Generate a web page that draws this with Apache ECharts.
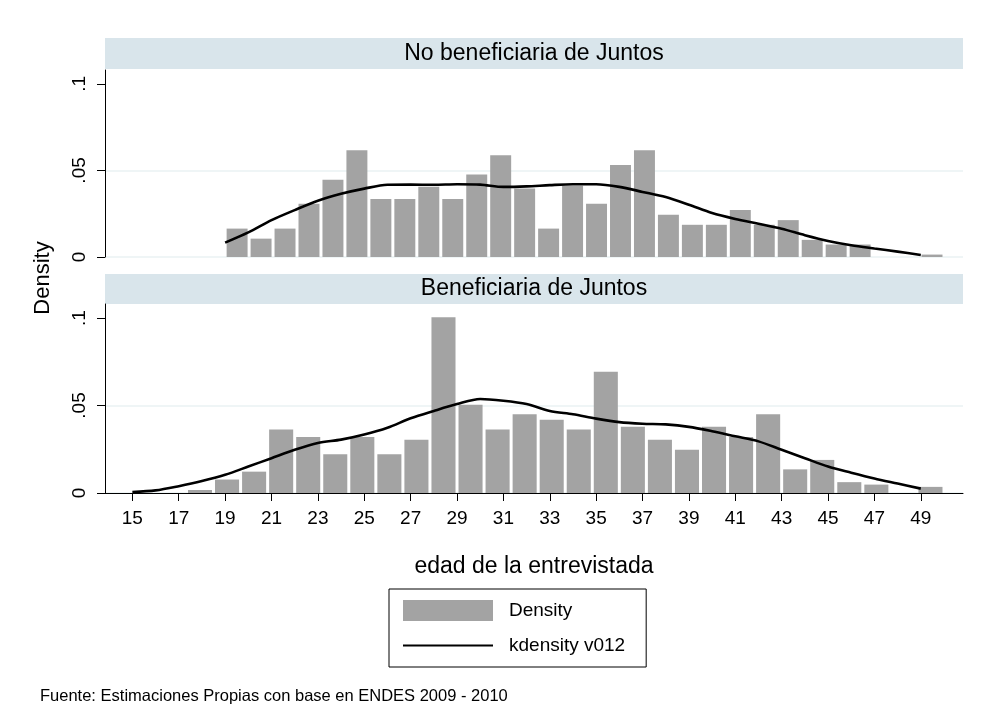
<!DOCTYPE html>
<html>
<head>
<meta charset="utf-8">
<script src="https://cdn.jsdelivr.net/npm/echarts@6/dist/echarts.min.js"></script>
<style>
html,body{margin:0;padding:0;background:#fff;}
#chart{width:984px;height:713px;}
</style>
</head>
<body>
<div id="chart"></div>
<script>
// ---- Data ----
const panelTitles = ['No beneficiaria de Juntos', 'Beneficiaria de Juntos'];
const xTickLabels = [15, 17, 19, 21, 23, 25, 27, 29, 31, 33, 35, 37, 39, 41, 43, 45, 47, 49];
const yTickValues = [0, 0.05, 0.1];

// Histogram: No beneficiaria (30 bins from 19 to 50)
const topBinStart = 19;
const topBinWidth = 31 / 30;
const topDensity = [0.0164, 0.0106, 0.0164, 0.0308, 0.0446, 0.0617, 0.0335, 0.0335, 0.0406, 0.0335,
  0.0477, 0.0588, 0.0396, 0.0164, 0.0412, 0.0308, 0.0531, 0.0617, 0.0244, 0.0186,
  0.0186, 0.0271, 0.0186, 0.0213, 0.0099, 0.0072, 0.0072, 0, 0, 0.0014];

// Histogram: Beneficiaria (30 bins from 15 to 50)
const botBinStart = 15;
const botBinWidth = 35 / 30;
const botDensity = [0, 0, 0.0017, 0.0077, 0.0122, 0.0363, 0.032, 0.0222, 0.032, 0.0222,
  0.0305, 0.1004, 0.0504, 0.0363, 0.045, 0.0419, 0.0363, 0.0693, 0.0378, 0.0305,
  0.0247, 0.0378, 0.032, 0.045, 0.0135, 0.0189, 0.0062, 0.0048, 0, 0.0035];

// Kernel density: ages and values
const topKdAges = [19, 20, 21, 22, 23, 24, 25, 26, 27, 28, 29, 30, 31, 32, 33, 34, 35, 36, 37, 38, 39, 40, 41, 42, 43, 44, 45, 46, 47, 48, 49];
const topKdVals = [0.0083, 0.0142, 0.0213, 0.0271, 0.0325, 0.0365, 0.0395, 0.0417, 0.0418, 0.0417,
  0.0420, 0.0418, 0.0405, 0.0408, 0.0415, 0.0420, 0.0420, 0.0405, 0.0376, 0.0346,
  0.0302, 0.0254, 0.0220, 0.0192, 0.0163, 0.0126, 0.0093, 0.0068, 0.0049, 0.0031, 0.0012];

const botKdAges = [15, 16, 17, 18, 19, 20, 21, 22, 23, 24, 25, 26, 27, 28, 29, 30, 31, 32, 33, 34, 35, 36, 37, 38, 39, 40, 41, 42, 43, 44, 45, 46, 47, 48, 49];
const botKdVals = [0.0006, 0.0015, 0.0039, 0.0068, 0.0104, 0.0151, 0.0199, 0.0247, 0.0286, 0.0305,
  0.0334, 0.0373, 0.0427, 0.0469, 0.0508, 0.0537, 0.0527, 0.0508, 0.0469, 0.0450,
  0.0425, 0.0405, 0.0396, 0.0392, 0.0378, 0.0353, 0.0324, 0.0295, 0.0247, 0.0199,
  0.0151, 0.0116, 0.0083, 0.0054, 0.0025];

const xMin = 13.82, xMax = 50.82, yMax = 0.108;

// ---- Build ----
const FONT = "'Liberation Sans', Arial, Helvetica, sans-serif";
const BAR = '#a3a3a3';
const GRIDC = '#eaf2f3';
const STRIP = '#d9e5eb';

function bins(start, width, vals) {
  return vals.map((v, i) => [start + i * width, start + (i + 1) * width, v]);
}
function pairs(xs, ys) { return xs.map((x, i) => [x, ys[i]]); }

function renderBar(params, api) {
  const s = api.value(0), e = api.value(1), v = api.value(2);
  if (!v) return null;
  const p0 = api.coord([s, 0]);
  const p1 = api.coord([e, v]);
  return {
    type: 'rect',
    shape: { x: p0[0] + 1.5, y: p1[1], width: p1[0] - p0[0] - 3, height: p0[1] - p1[1] },
    style: { fill: BAR }
  };
}

const grids = [
  { left: 105, right: 21, top: 70, height: 187 },
  { left: 105, right: 21, top: 304, height: 189 }
];

function yAxis(idx) {
  return {
    type: 'value', gridIndex: idx, min: 0, max: yMax, interval: 0.05,
    axisLine: { show: true, lineStyle: { color: '#000', width: 1 } },
    axisTick: { show: true, length: 8, lineStyle: { color: '#000' }, customValues: yTickValues },
    axisLabel: {
      customValues: yTickValues, rotate: 90, margin: 16,
      color: '#000', fontSize: 19, fontFamily: FONT,
      formatter: v => v === 0 ? '0' : String(+v.toFixed(3)).replace(/^0\./, '.')
    },
    splitLine: { show: true, showMaxLine: false, lineStyle: { color: GRIDC, width: 1.5 } }
  };
}

const option = {
  animation: false,
  backgroundColor: '#fff',
  textStyle: { fontFamily: FONT },
  grid: grids,
  xAxis: [
    { type: 'value', gridIndex: 0, min: xMin, max: xMax, show: false },
    {
      type: 'value', gridIndex: 1, min: xMin, max: xMax,
      axisLine: { show: true, onZero: false, lineStyle: { color: '#000', width: 1 } },
      axisTick: { show: true, length: 8, lineStyle: { color: '#000' }, customValues: xTickLabels },
      axisLabel: { customValues: xTickLabels, margin: 16, color: '#000', fontSize: 19, fontFamily: FONT },
      splitLine: { show: false },
      name: 'edad de la entrevistada', nameLocation: 'middle', nameGap: 62,
      nameTextStyle: { color: '#000', fontSize: 23, fontFamily: FONT }
    }
  ],
  yAxis: [yAxis(0), yAxis(1)],
  legend: {
    orient: 'vertical', left: 389, top: 589,
    padding: [11, 21, 11, 13], itemGap: 14, itemWidth: 90, itemHeight: 21,
    borderColor: '#000', borderWidth: 1,
    textStyle: { color: '#000', fontSize: 19, fontFamily: FONT, lineHeight: 21, padding: [0, 0, 0, 11] },
    data: [
      { name: 'Density', icon: 'rect' },
      { name: 'kdensity v012', itemStyle: { color: 'rgba(0,0,0,0)', borderWidth: 0, opacity: 0 } }
    ]
  },
  graphic: [
    { type: 'rect', left: 105, top: 38, shape: { width: 858, height: 31 }, style: { fill: STRIP }, silent: true },
    { type: 'text', x: 534, y: 54, style: { text: panelTitles[0], fill: '#000', font: '23px ' + FONT, align: 'center', verticalAlign: 'middle' } },
    { type: 'rect', left: 105, top: 274, shape: { width: 858, height: 30 }, style: { fill: STRIP }, silent: true },
    { type: 'text', x: 534, y: 289, style: { text: panelTitles[1], fill: '#000', font: '23px ' + FONT, align: 'center', verticalAlign: 'middle' } },
    { type: 'text', x: 43, y: 278, rotation: Math.PI / 2, style: { text: 'Density', fill: '#000', font: '22px ' + FONT, align: 'center', verticalAlign: 'middle' } },
    { type: 'text', x: 40, y: 696, style: { text: 'Fuente: Estimaciones Propias con base en ENDES 2009 - 2010', fill: '#000', font: '16.5px ' + FONT, align: 'left', verticalAlign: 'middle' } }
  ],
  series: [
    {
      name: 'Density', type: 'custom', xAxisIndex: 0, yAxisIndex: 0,
      itemStyle: { color: BAR }, renderItem: renderBar,
      encode: { x: [0, 1], y: 2 }, data: bins(topBinStart, topBinWidth, topDensity), z: 2
    },
    {
      name: 'Density', type: 'custom', xAxisIndex: 1, yAxisIndex: 1,
      itemStyle: { color: BAR }, renderItem: renderBar,
      encode: { x: [0, 1], y: 2 }, data: bins(botBinStart, botBinWidth, botDensity), z: 2
    },
    {
      name: 'kdensity v012', type: 'line', xAxisIndex: 0, yAxisIndex: 0,
      symbol: 'none', smooth: 0.3, lineStyle: { color: '#000', width: 2.6 }, itemStyle: { color: '#000' },
      data: pairs(topKdAges, topKdVals), z: 3
    },
    {
      name: 'kdensity v012', type: 'line', xAxisIndex: 1, yAxisIndex: 1,
      symbol: 'none', smooth: 0.3, lineStyle: { color: '#000', width: 2.6 }, itemStyle: { color: '#000' },
      data: pairs(botKdAges, botKdVals), z: 3
    }
  ]
};

const chart = echarts.init(document.getElementById('chart'), null, { renderer: 'canvas' });
chart.setOption(option);
</script>
</body>
</html>
